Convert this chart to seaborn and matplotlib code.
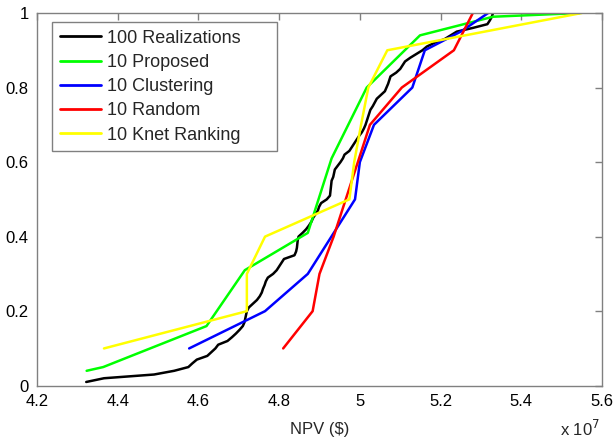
import matplotlib
matplotlib.use("Agg")
import matplotlib.pyplot as plt
import seaborn as sns
import pandas as pd
from matplotlib.ticker import FuncFormatter, MultipleLocator
from matplotlib.patches import Rectangle

# NPV values in units of 1e7 $
realizations_x = [
    4.322, 4.366, 4.490, 4.540, 4.575, 4.585, 4.596, 4.622, 4.632, 4.642,
    4.649, 4.672, 4.683, 4.693, 4.702, 4.710, 4.714, 4.716, 4.718, 4.720,
    4.725, 4.735, 4.745, 4.752, 4.757, 4.760, 4.764, 4.767, 4.772, 4.785,
    4.794, 4.800, 4.806, 4.812, 4.838, 4.842, 4.844, 4.845, 4.846, 4.848,
    4.858, 4.867, 4.874, 4.880, 4.884, 4.890, 4.896, 4.899, 4.904, 4.918,
    4.926, 4.927, 4.928, 4.929, 4.930, 4.934, 4.936, 4.938, 4.945, 4.952,
    4.958, 4.962, 4.974, 4.980, 4.986, 4.992, 4.998, 5.005, 5.010, 5.014,
    5.017, 5.020, 5.023, 5.026, 5.032, 5.037, 5.042, 5.052, 5.062, 5.066,
    5.070, 5.073, 5.076, 5.090, 5.100, 5.106, 5.112, 5.125, 5.140, 5.155,
    5.166, 5.185, 5.210, 5.225, 5.240, 5.280, 5.316, 5.322, 5.327, 5.330,
]
realizations_y = [(i + 1) / 100 for i in range(100)]

proposed_x = [4.323, 4.364, 4.620, 4.715, 4.871, 4.930, 5.017, 5.149, 5.330, 5.545]
proposed_y = [0.04, 0.05, 0.16, 0.31, 0.41, 0.61, 0.80, 0.94, 0.99, 1.00]

clustering_x = [4.577, 4.765, 4.871, 4.988, 5.000, 5.035, 5.130, 5.161, 5.250, 5.318]
clustering_y = [0.10, 0.20, 0.30, 0.50, 0.60, 0.70, 0.80, 0.90, 0.95, 1.00]

random_x = [4.810, 4.883, 4.900, 4.935, 4.965, 4.995, 5.025, 5.104, 5.233, 5.280]
random_y = [0.10, 0.20, 0.30, 0.40, 0.50, 0.60, 0.70, 0.80, 0.90, 1.00]

knet_x = [4.366, 4.720, 4.720, 4.765, 4.974, 4.986, 5.003, 5.021, 5.068, 5.550]
knet_y = [0.10, 0.20, 0.30, 0.40, 0.50, 0.60, 0.70, 0.80, 0.90, 1.00]

labels = ["100 Realizations", "10 Proposed", "10 Clustering", "10 Random", "10 Knet Ranking"]
colors = ["#000000", "#00ff00", "#0000ff", "#ff0000", "#ffff00"]

series = [
    (realizations_x, realizations_y),
    (proposed_x, proposed_y),
    (clustering_x, clustering_y),
    (random_x, random_y),
    (knet_x, knet_y),
]
frames = []
for lab, (xs, ys) in zip(labels, series):
    frames.append(pd.DataFrame({"NPV": xs, "P": ys, "Series": lab}))
df = pd.concat(frames, ignore_index=True)

sns.set_style("white")
plt.rcParams["font.family"] = ["Liberation Sans", "DejaVu Sans"]

fig = plt.figure(figsize=(6.14, 4.42), dpi=100)
ax = fig.add_axes([37 / 614, 1 - 385.7 / 442, 565 / 614, 372.7 / 442])

sns.lineplot(data=df, x="NPV", y="P", hue="Series", hue_order=labels,
             palette=dict(zip(labels, colors)), sort=False, estimator=None,
             units="Series", linewidth=1.8, ax=ax, legend=True)

ax.set_xlim(4.2, 5.6)
ax.set_ylim(0, 1)
ax.xaxis.set_major_locator(MultipleLocator(0.2))
ax.yaxis.set_major_locator(MultipleLocator(0.2))
fmt = FuncFormatter(lambda v, p: ("%.1f" % v).rstrip("0").rstrip("."))
ax.xaxis.set_major_formatter(fmt)
ax.yaxis.set_major_formatter(fmt)

grey = "#808080"
for s in ax.spines.values():
    s.set_visible(True)
    s.set_color(grey)
    s.set_linewidth(1.0)
ax.tick_params(direction="in", length=5, width=1, color=grey, labelsize=12,
               labelcolor="black", top=True, right=True, pad=6)

ax.set_xlabel("NPV ($)", fontsize=12, labelpad=9)
ax.set_ylabel("")
ax.text(0.997, -0.135, r"x 10$^7$", transform=ax.transAxes, ha="right",
        va="baseline", fontsize=12)

# legend frame (MATLAB-style box, wider than its contents)
ax.add_patch(Rectangle((0.026, 0.630), 0.398, 0.347, transform=ax.transAxes,
                       facecolor="white", edgecolor=grey, linewidth=1.0,
                       zorder=4))
handles, lbls = ax.get_legend_handles_labels()
leg = ax.legend(handles, lbls, loc="upper left",
                bbox_to_anchor=(0.026, 0.977), borderaxespad=0,
                fontsize=13, frameon=False, handlelength=2.3,
                handletextpad=0.3, borderpad=0.45, labelspacing=0.4)
leg.set_zorder(5)
for h in leg.get_lines():
    h.set_linewidth(2)

fig.savefig("out.png", dpi=100)
